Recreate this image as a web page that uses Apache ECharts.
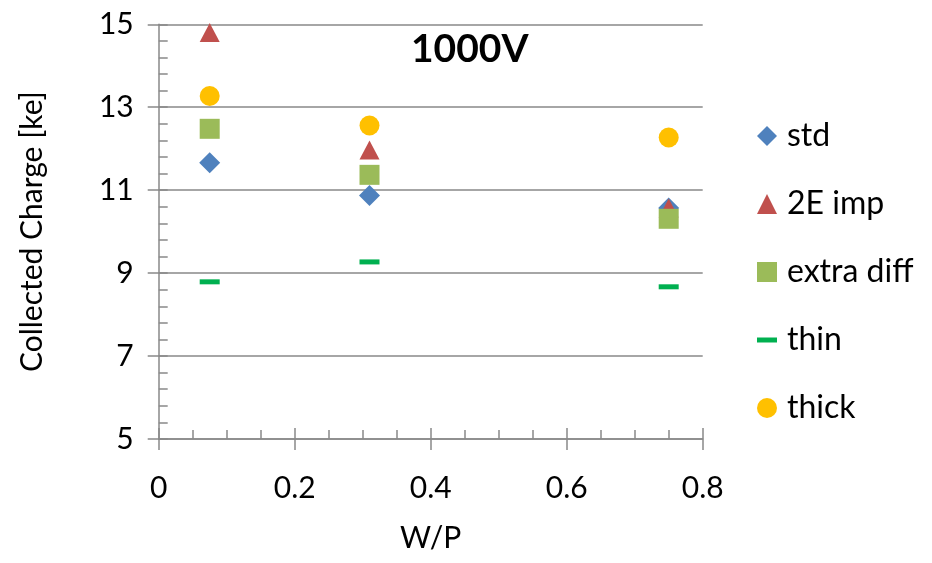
<!DOCTYPE html>
<html>
<head>
<meta charset="utf-8">
<script src="https://cdn.jsdelivr.net/npm/echarts@6/dist/echarts.min.js"></script>
<style>
  html, body { margin: 0; padding: 0; background: #fff; }
  #chart { width: 932px; height: 563px; }
</style>
</head>
<body>
<div id="chart"></div>
<script>
// W/P positions of the three pixel layouts
const wp = [0.075, 0.31, 0.75]

// collected charge [ke] per variant
const stdVals = [11.66, 10.87, 10.57]
const impVals = [14.8, 11.97, 10.57]
const extraDiffVals = [12.48, 11.37, 10.31]
const thinVals = [8.79, 9.27, 8.67]
const thickVals = [13.27, 12.56, 12.27]

const yTicks = [5, 7, 9, 11, 13, 15]
const yMinorStep = 0.4

const seriesColors = ['#4F81BD', '#C0504D', '#9BBB59', '#00B050', '#FFC000']

const FONT = 'Lato'
const AXIS_GRAY = '#898989'

const chart = echarts.init(document.getElementById('chart'))

const yMinor = []
for (let v = yTicks[0]; v <= yTicks[yTicks.length - 1] + 1e-9; v += yMinorStep) {
  yMinor.push(Math.round(v * 10) / 10)
}

const pairs = vals => wp.map((x, i) => [x, vals[i]])

const dashPath = 'path://M0,0L20,0L20,5L0,5Z'

const series = [
  { name: 'std', data: pairs(stdVals), symbol: 'diamond', symbolSize: 21 },
  { name: '2E imp', data: pairs(impVals), symbol: 'triangle', symbolSize: [20, 19] },
  { name: 'extra diff', data: pairs(extraDiffVals), symbol: 'rect', symbolSize: 20 },
  { name: 'thin', data: pairs(thinVals), symbol: 'rect', symbolSize: [20, 5] },
  { name: 'thick', data: pairs(thickVals), symbol: 'circle', symbolSize: 20 }
].map((s, i) => ({
  ...s,
  type: 'scatter',
  xAxisIndex: 0,
  yAxisIndex: 0,
  itemStyle: { color: seriesColors[i], opacity: 1 },
  emphasis: { disabled: true }
}))

chart.setOption({
  animation: false,
  textStyle: { fontFamily: FONT, color: '#000' },
  title: {
    text: '1000V',
    left: 411,
    top: 30,
    padding: 0,
    textStyle: { fontFamily: FONT, fontSize: 39, fontWeight: 'bold', color: '#000' }
  },
  legend: {
    orient: 'vertical',
    left: 752,
    top: 114,
    itemWidth: 20,
    itemHeight: 20,
    itemGap: 34,
    textStyle: { fontFamily: FONT, fontSize: 32, color: '#000', lineHeight: 34, padding: [0, 0, 0, 5] },
    data: [
      { name: 'std', icon: 'diamond' },
      { name: '2E imp', icon: 'triangle' },
      { name: 'extra diff', icon: 'rect' },
      { name: 'thin', icon: dashPath },
      { name: 'thick', icon: 'circle' }
    ]
  },
  grid: { left: 158.7, right: 229.3, top: 24.3, bottom: 124, containLabel: false },
  xAxis: [
    {
      type: 'value',
      min: 0,
      max: 0.8,
      interval: 0.2,
      name: 'W/P',
      nameLocation: 'middle',
      nameGap: 84,
      nameTextStyle: { fontFamily: FONT, fontSize: 30, color: '#000' },
      axisLine: { show: true, onZero: false, lineStyle: { color: AXIS_GRAY, width: 1.5 } },
      axisTick: { show: true, inside: false, length: 11, lineStyle: { color: AXIS_GRAY, width: 1.5 } },
      axisLabel: { fontFamily: FONT, fontSize: 30, color: '#000', margin: 34 },
      splitLine: { show: false }
    },
    {
      type: 'value',
      min: 0,
      max: 0.8,
      interval: 0.2,
      position: 'bottom',
      axisLine: { show: false },
      axisTick: { show: true, inside: true, length: 11, lineStyle: { color: AXIS_GRAY, width: 1.5 } },
      minorTick: { show: true, splitNumber: 4, length: 9, lineStyle: { color: AXIS_GRAY, width: 1.5 } },
      axisLabel: { show: false },
      splitLine: { show: false }
    }
  ],
  yAxis: [
    {
      type: 'value',
      min: 5,
      max: 15,
      name: 'Collected Charge [ke]',
      nameLocation: 'middle',
      nameGap: 111,
      nameTextStyle: { fontFamily: FONT, fontSize: 30, color: '#000' },
      axisLine: { show: true, onZero: false, lineStyle: { color: AXIS_GRAY, width: 1.5 } },
      axisTick: { show: true, inside: false, length: 11, customValues: yTicks, lineStyle: { color: AXIS_GRAY, width: 1.5 } },
      axisLabel: { fontFamily: FONT, fontSize: 30, color: '#000', margin: 25, customValues: yTicks },
      splitLine: { show: true, lineStyle: { color: AXIS_GRAY, width: 1.5 } }
    },
    {
      type: 'value',
      min: 5,
      max: 15,
      position: 'left',
      axisLine: { show: false },
      axisTick: { show: true, inside: true, length: 9, customValues: yMinor, lineStyle: { color: AXIS_GRAY, width: 1.5 } },
      axisLabel: { show: false },
      splitLine: { show: false }
    }
  ],
  series
})
</script>
</body>
</html>
